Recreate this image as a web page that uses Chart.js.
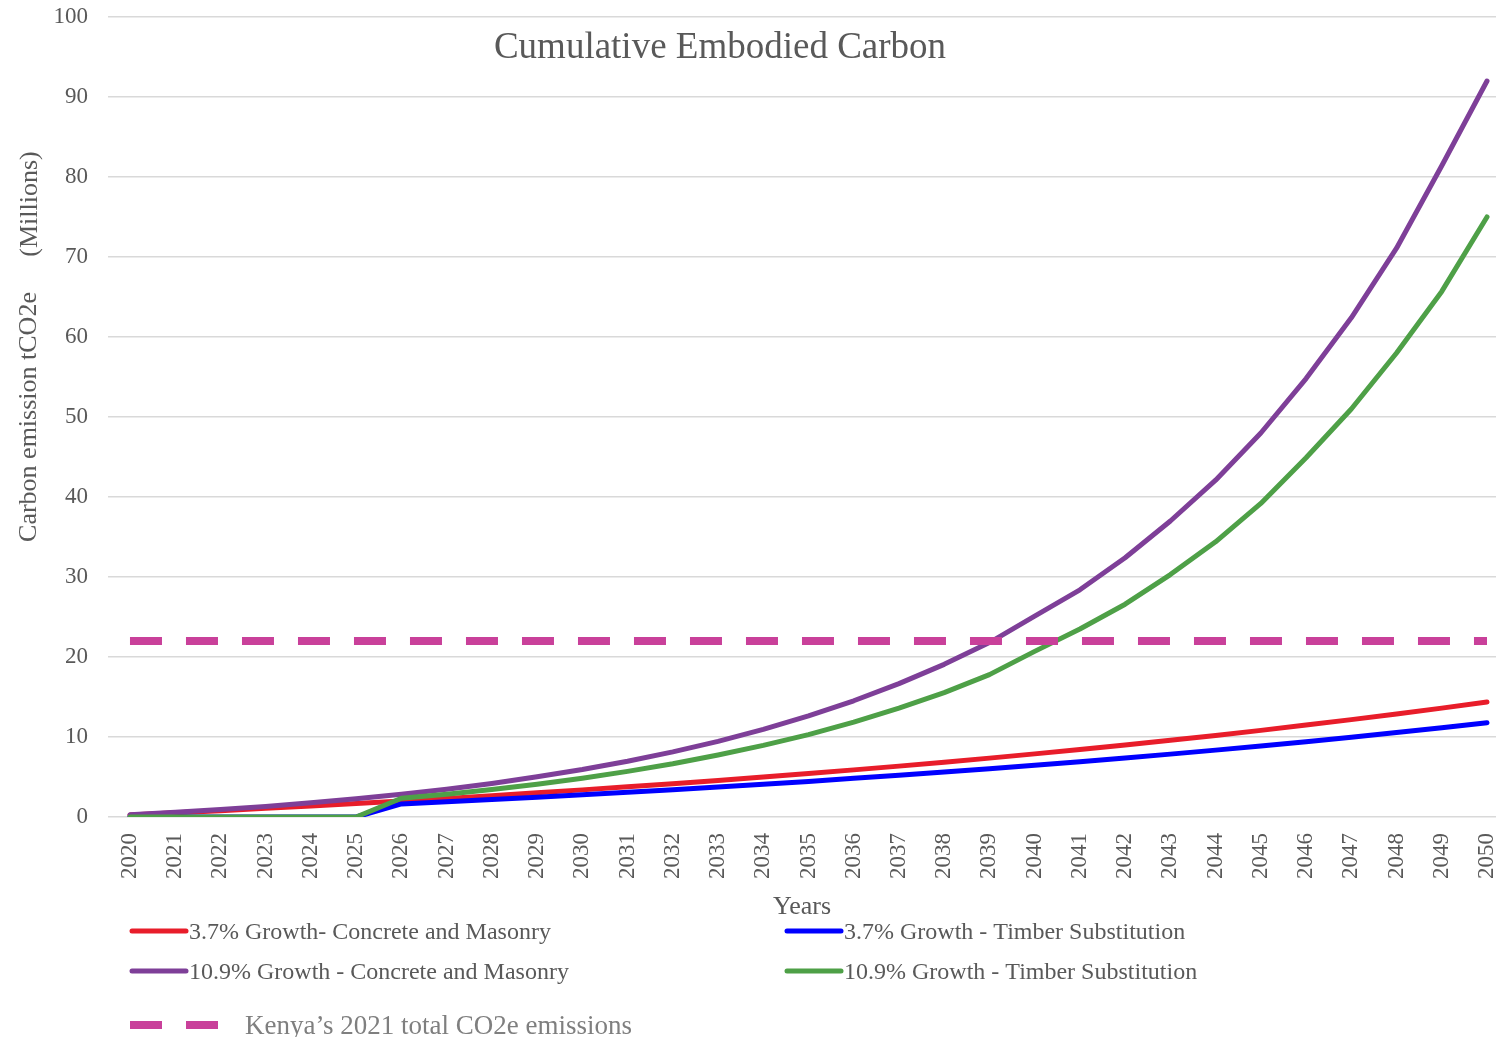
<!DOCTYPE html>
<html>
<head>
<meta charset="utf-8">
<script src="https://cdn.jsdelivr.net/npm/chart.js@4.4.1/dist/chart.umd.min.js"></script>
<style>
  html, body { margin: 0; padding: 0; background: #fff; }
</style>
</head>
<body>
<canvas id="carbonChart" width="1496" height="1037"></canvas>
<script>
const years = [2020, 2021, 2022, 2023, 2024, 2025, 2026, 2027, 2028, 2029, 2030,
  2031, 2032, 2033, 2034, 2035, 2036, 2037, 2038, 2039, 2040,
  2041, 2042, 2043, 2044, 2045, 2046, 2047, 2048, 2049, 2050];

// cumulative tCO2e, millions
const concrete37 = [0.26, 0.52, 0.79, 1.08, 1.37, 1.68, 2.0, 2.32, 2.67, 3.02, 3.39,
  3.77, 4.16, 4.57, 4.99, 5.43, 5.89, 6.36, 6.85, 7.36, 7.89,
  8.44, 9.0, 9.59, 10.2, 10.83, 11.49, 12.17, 12.88, 13.61, 14.37];
const timber37 = [0, 0, 0, 0, 0, 0, 1.64, 1.9, 2.19, 2.48, 2.78,
  3.09, 3.41, 3.75, 4.09, 4.45, 4.83, 5.22, 5.62, 6.04, 6.47,
  6.92, 7.38, 7.86, 8.36, 8.88, 9.42, 9.98, 10.56, 11.16, 11.78];
const concrete109 = [0.28, 0.58, 0.93, 1.32, 1.77, 2.27, 2.84, 3.47, 4.2, 5.02, 5.93,
  6.97, 8.14, 9.46, 10.95, 12.63, 14.53, 16.67, 19.08, 21.8, 25.1,
  28.4, 32.4, 37.0, 42.1, 48.0, 54.8, 62.4, 71.1, 81.4, 92.0];
const timber109 = [0, 0, 0, 0, 0, 0, 2.35, 2.85, 3.45, 4.1, 4.85,
  5.7, 6.65, 7.75, 8.95, 10.3, 11.85, 13.6, 15.55, 17.8, 20.7,
  23.5, 26.6, 30.3, 34.4, 39.2, 44.9, 51.0, 58.0, 65.7, 75.0];
const kenya2021 = 22;

const yTicks = [0, 10, 20, 30, 40, 50, 60, 70, 80, 90, 100];

const serif = '"Liberation Serif", "Times New Roman", serif';
const gray = '#595959';

const toPoints = (vals) => vals.map((v, i) => ({ x: years[i], y: v }));

function serie(label, vals, color, order) {
  return {
    label,
    data: toPoints(vals),
    borderColor: color,
    backgroundColor: color,
    borderWidth: 5,
    borderCapStyle: 'round',
    borderJoinStyle: 'round',
    pointRadius: 0,
    tension: 0,
    order
  };
}

// title, units label and legend drawn straight on the canvas
const extras = {
  id: 'extras',
  afterDraw(chart) {
    const ctx = chart.ctx;
    ctx.save();

    ctx.fillStyle = gray;
    ctx.textAlign = 'center';
    ctx.textBaseline = 'middle';
    ctx.font = '37px ' + serif;
    ctx.fillText('Cumulative Embodied Carbon', 720, 48);

    ctx.save();
    ctx.translate(30, 204);
    ctx.rotate(-Math.PI / 2);
    ctx.font = '26px ' + serif;
    ctx.fillText('(Millions)', 0, 0);
    ctx.restore();

    ctx.textAlign = 'left';
    ctx.font = '24px ' + serif;
    const cols = [132, 787];
    const rows = [931, 971];
    const legendOrder = [0, 1, 2, 3];
    legendOrder.forEach((idx, i) => {
      const ds = chart.data.datasets[idx];
      const x = cols[i % 2];
      const y = rows[Math.floor(i / 2)];
      ctx.strokeStyle = ds.borderColor;
      ctx.lineWidth = 5;
      ctx.lineCap = 'round';
      ctx.setLineDash([]);
      ctx.beginPath();
      ctx.moveTo(x, y);
      ctx.lineTo(x + 54, y);
      ctx.stroke();
      ctx.fillStyle = gray;
      ctx.fillText(ds.label, x + 57, y + 2);
    });

    const dash = chart.data.datasets[4];
    ctx.strokeStyle = dash.borderColor;
    ctx.lineWidth = 8;
    ctx.lineCap = 'butt';
    ctx.setLineDash([32, 24]);
    ctx.beginPath();
    ctx.moveTo(130, 1025);
    ctx.lineTo(218, 1025);
    ctx.stroke();
    ctx.setLineDash([]);
    ctx.fillStyle = '#7f7f7f';
    ctx.font = '27px ' + serif;
    ctx.fillText(dash.label, 245, 1027);

    ctx.restore();
  }
};

new Chart(document.getElementById('carbonChart'), {
  type: 'line',
  data: {
    datasets: [
      serie('3.7% Growth- Concrete and Masonry', concrete37, '#E81D2A', 4),
      serie('3.7% Growth - Timber Substitution', timber37, '#0000FF', 3),
      serie('10.9% Growth - Concrete and Masonry', concrete109, '#7E3F98', 2),
      serie('10.9% Growth - Timber Substitution', timber109, '#4EA047', 1),
      {
        label: 'Kenya\u2019s 2021 total CO2e emissions',
        data: years.map(y => ({ x: y, y: kenya2021 })),
        borderColor: '#C9409A',
        borderWidth: 8,
        borderDash: [32, 24],
        borderCapStyle: 'butt',
        pointRadius: 0,
        order: 0
      }
    ]
  },
  options: {
    responsive: false,
    animation: false,
    layout: { padding: { top: 17, right: 0, bottom: 0, left: 0 } },
    plugins: {
      legend: { display: false },
      tooltip: { enabled: false }
    },
    scales: {
      x: {
        type: 'linear',
        min: 2019.514,
        max: 2050.199,
        grid: { display: false, drawTicks: false },
        border: { display: false },
        afterBuildTicks: (scale) => { scale.ticks = years.map(v => ({ value: v })); },
        afterFit: (scale) => {
          scale.height = 220;
          scale.paddingLeft = 0;
          scale.paddingRight = 0;
        },
        ticks: {
          autoSkip: false,
          minRotation: 90,
          maxRotation: 90,
          padding: 16,
          color: gray,
          font: { family: serif, size: 23 },
          callback: (v) => String(v)
        },
        title: {
          display: true,
          text: 'Years',
          color: gray,
          font: { family: serif, size: 26 },
          padding: { top: 0, bottom: 114 }
        }
      },
      y: {
        min: 0,
        max: 100,
        afterBuildTicks: (scale) => { scale.ticks = yTicks.map(v => ({ value: v })); },
        afterFit: (scale) => {
          scale.width = 108;
          scale.paddingTop = 0;
          scale.paddingBottom = 0;
        },
        grid: { color: '#d9d9d9', lineWidth: 1.5, drawTicks: false },
        border: { display: false },
        ticks: {
          padding: 20,
          color: gray,
          font: { family: serif, size: 23 }
        },
        title: {
          display: true,
          text: 'Carbon emission tCO2e',
          color: gray,
          font: { family: serif, size: 26 },
          padding: { top: 14, bottom: 0 }
        }
      }
    }
  },
  plugins: [extras]
});
</script>
</body>
</html>
